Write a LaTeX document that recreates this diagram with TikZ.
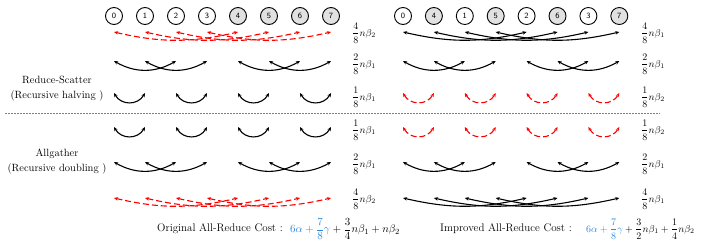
\documentclass[tikz,border=0pt]{standalone}
\usetikzlibrary{arrows.meta}
\definecolor{costblue}{RGB}{45,135,215}
\definecolor{nodegray}{RGB}{225,225,225}
\begin{document}
\begin{tikzpicture}[x=1pt,y=1pt,
  rank/.style={circle,draw,line width=0.9pt,minimum size=17pt,inner sep=0pt,font=\sffamily\fontsize{8}{8}\selectfont},
  wrank/.style={rank,fill=white},
  grank/.style={rank,fill=nodegray},
  blk/.style={draw=black,line width=1.1pt,{Stealth[length=4pt,width=3.5pt]}-{Stealth[length=4pt,width=3.5pt]}},
  rdash/.style={draw=red,line width=1.1pt,dash pattern=on 6pt off 3pt,{Stealth[length=4pt,width=3.5pt]}-{Stealth[length=4pt,width=3.5pt]}},
  lbl/.style={anchor=west,inner sep=0pt,font=\fontsize{10}{11}\selectfont},
  phase/.style={align=center,font=\fontsize{10.5}{15}\selectfont}
]
\useasboundingbox (0,0) rectangle (706,-244);
% nodes
\foreach \i in {0,...,7}{
  \pgfmathsetmacro{\xx}{114+31*\i}
  \ifnum\i<4 \node[wrank] (L\i) at (\xx,-16) {\i}; \else \node[grank] (L\i) at (\xx,-16) {\i}; \fi
}
\foreach \i/\lab/\st in {0/0/wrank,1/4/grank,2/1/wrank,3/5/grank,4/2/wrank,5/6/grank,6/3/wrank,7/7/grank}{
  \pgfmathsetmacro{\xx}{403+30.9*\i}
  \node[\st] (R\i) at (\xx,-16) {\lab};
}
% row levels
\coordinate (y1) at (0,-32);
\coordinate (y2) at (0,-61);
\coordinate (y3) at (0,-93);
\coordinate (y4) at (0,-127);
\coordinate (y5) at (0,-162);
\coordinate (y6) at (0,-198);
\foreach \r in {1,...,6}{
  \foreach \i in {0,...,7}{
    \coordinate (L\i r\r) at (L\i |- y\r);
    \coordinate (R\i r\r) at (R\i |- y\r);
  }
}
% row 1
\foreach \a/\b in {0/4,1/5,2/6,3/7}{
  \draw[rdash] (L\a r1) to[bend right=13] (L\b r1);
  \draw[blk] (R\a r1) to[bend right=13] (R\b r1);
}
% row 2 and 5
\foreach \a/\b in {0/2,1/3,4/6,5/7}{
  \draw[blk] (L\a r2) to[bend right=30] (L\b r2);
  \draw[blk] (R\a r2) to[bend right=30] (R\b r2);
  \draw[blk] (L\a r5) to[bend right=30] (L\b r5);
  \draw[blk] (R\a r5) to[bend right=30] (R\b r5);
}
% row 3 and 4
\foreach \a/\b in {0/1,2/3,4/5,6/7}{
  \draw[blk] (L\a r3) to[out=-60,in=-120,looseness=1.2] (L\b r3);
  \draw[rdash] (R\a r3) to[out=-60,in=-120,looseness=1.2] (R\b r3);
  \draw[blk] (L\a r4) to[out=-60,in=-120,looseness=1.2] (L\b r4);
  \draw[rdash] (R\a r4) to[out=-60,in=-120,looseness=1.2] (R\b r4);
}
% row 6
\foreach \a/\b in {0/4,1/5,2/6,3/7}{
  \draw[rdash] (L\a r6) to[bend right=13] (L\b r6);
  \draw[blk] (R\a r6) to[bend right=13] (R\b r6);
}
% labels
\node[lbl] (la1) at (352,-33) {$\displaystyle\frac{4}{8}n\beta_2$};
\node[lbl] (la2) at (352,-64) {$\displaystyle\frac{2}{8}n\beta_1$};
\node[lbl] (la3) at (352,-97) {$\displaystyle\frac{1}{8}n\beta_1$};
\node[lbl] (la4) at (352,-130) {$\displaystyle\frac{1}{8}n\beta_1$};
\node[lbl] (la5) at (352,-164) {$\displaystyle\frac{2}{8}n\beta_1$};
\node[lbl] (la6) at (352,-199) {$\displaystyle\frac{4}{8}n\beta_2$};
\node[lbl] (lb1) at (641,-33) {$\displaystyle\frac{4}{8}n\beta_1$};
\node[lbl] (lb2) at (641,-64) {$\displaystyle\frac{2}{8}n\beta_1$};
\node[lbl] (lb3) at (641,-97) {$\displaystyle\frac{1}{8}n\beta_2$};
\node[lbl] (lb4) at (641,-130) {$\displaystyle\frac{1}{8}n\beta_2$};
\node[lbl] (lb5) at (641,-164) {$\displaystyle\frac{2}{8}n\beta_1$};
\node[lbl] (lb6) at (641,-199) {$\displaystyle\frac{4}{8}n\beta_1$};
% phase labels
\node[phase] (rs) at (57,-89) {Reduce-Scatter\\(Recursive halving )};
\node[phase] (ag) at (57,-162) {Allgather\\(Recursive doubling )};
% separator
\draw[gray,line width=0.6pt,dash pattern=on 2pt off 1pt] (5,-113) coordinate (s1) -- (660,-113) coordinate (s2);
% costs
\node[anchor=west,inner sep=0pt,font=\fontsize{11}{12}\selectfont] (oc) at (157,-229) {Original All-Reduce Cost :};
\node[anchor=west,inner sep=0pt,font=\fontsize{11}{12}\selectfont] (of) at (290,-229) {$\displaystyle\color{costblue}6\alpha+\frac{7}{8}\gamma\color{black}+\frac{3}{4}n\beta_1+n\beta_2$};
\node[anchor=west,inner sep=0pt,font=\fontsize{11}{12}\selectfont] (ic) at (440,-229) {Improved All-Reduce Cost :};
\node[anchor=west,inner sep=0pt,font=\fontsize{10}{11}\selectfont] (if) at (586,-229) {$\displaystyle\color{costblue}6\alpha+\frac{7}{8}\gamma\color{black}+\frac{3}{2}n\beta_1+\frac{1}{4}n\beta_2$};
\end{tikzpicture}
\end{document}
